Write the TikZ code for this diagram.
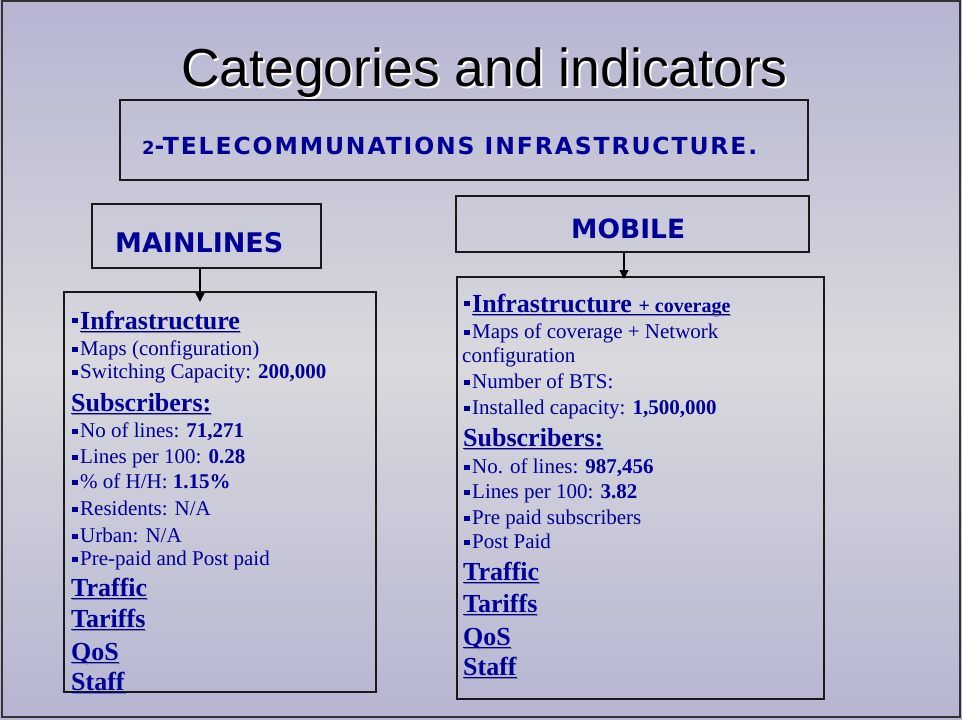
\documentclass[tikz,border=0pt]{standalone}
\usepackage{fontspec}
\setmainfont{Liberation Serif}
\newfontfamily\slidesans{Liberation Sans}
\newfontfamily\boxsans{DejaVu Sans}
\newfontfamily\widesans[LetterSpace=8]{DejaVu Sans}
\usetikzlibrary{positioning, arrows.meta}
\definecolor{tblue}{RGB}{0,0,153}
\definecolor{bgtop}{RGB}{181,181,210}
\definecolor{bgmid}{RGB}{217,217,221}
\definecolor{ulshade}{RGB}{125,125,160}
% underline with a small shadow, kept at a fixed depth
\newsavebox\ulbox
\newcommand\uln[1]{\sbox\ulbox{#1}\leavevmode\vtop{\offinterlineskip\hbox{\raisebox{0pt}[\ht\ulbox][0pt]{\usebox\ulbox}}\kern2pt\hbox{\rule{\wd\ulbox}{1.4pt}}\moveright1pt\hbox{\color{ulshade}\rule{\wd\ulbox}{0.9pt}}}}
% square bullet
\newcommand\sqb[1][3]{\rule[#1pt]{5.5pt}{5.5pt}\kern2.5pt}
\tikzset{
	catbox/.style={
		draw=black!90,
		line width=1.4pt,
		inner sep=0pt,
		outer sep=0pt
	},
	feed/.style={
		-{Triangle[width=9pt,length=9pt]},
		line width=1.3pt
	},
	line/.style={
		anchor=base west,
		inner sep=0pt,
		text=tblue,
		font=\fontsize{21}{25}\selectfont
	},
	head/.style={
		line,
		font=\fontsize{26}{30}\selectfont\bfseries
	},
	caplabel/.style={
		anchor=base west,
		inner sep=0pt,
		text=tblue
	}
}

\begin{document}
\begin{tikzpicture}[x=1pt, y=-1pt]
	\useasboundingbox (0,0) rectangle (962,720);
	\shade[top color=bgtop, bottom color=bgtop, middle color=bgmid] (0,0) rectangle (962,720);
	\draw[line width=2pt, black!80] (2,1) rectangle (960,717);

	% title
	\node[anchor=base, inner sep=0pt, text=white, font=\slidesans\fontsize{53.5}{60}\selectfont] (titleshadow) at (486.5,88) {Categories and indicators};
	\node[anchor=base, inner sep=0pt, font=\slidesans\fontsize{53.5}{60}\selectfont] (title) at (484.5,86) {Categories and indicators};

	% boxes
	\node[catbox, minimum width=688, minimum height=80] (telbox) at (464,140) {};
	\node[catbox, minimum width=229, minimum height=64] (main) at (206.5,236) {};
	\node[catbox, minimum width=353, minimum height=56] (mobile) at (632.5,224) {};
	\node[catbox, minimum width=312, minimum height=400] (mlbody) at (220,492) {};
	\node[catbox, minimum width=367, minimum height=422] (mobody) at (640.5,488) {};

	\node[caplabel, font=\widesans\bfseries\fontsize{23.5}{26}\selectfont] (tellabel) at (142,154) {{\fontsize{18}{18}\selectfont 2}-TELECOMMUNATIONS INFRASTRUCTURE.};
	\node[caplabel, font=\boxsans\bfseries\fontsize{27}{30}\selectfont] (mainlabel) at (115,252) {MAINLINES};
	\node[caplabel, font=\boxsans\bfseries\fontsize{26.5}{30}\selectfont] (mobilelabel) at (571,238) {MOBILE};

	\draw[feed, shorten >=-10pt] ([xshift=-6.5pt]main.south) -- ([xshift=-6.5pt]main.south |- mlbody.north);
	\draw[feed, shorten >=-2pt] ([xshift=-8.5pt]mobile.south) -- ([xshift=-8.5pt]mobile.south |- mobody.north);

	% mainlines indicators
	\node[head] (ml-infra) at (72,329) {\sqb[6]\uln{Infrastructure}};
	\node[line] (ml-maps) at (72,355) {\sqb Maps (configuration)};
	\node[line] (ml-switch) at (72,378) {\sqb Switching Capacity: \textbf{200,000}};
	\node[head] (ml-subs) at (71,411) {\uln{Subscribers:}};
	\node[line] (ml-lines) at (72,437) {\sqb No of lines: \textbf{71,271}};
	\node[line] (ml-per) at (72,463) {\sqb Lines per 100: \textbf{0.28}};
	\node[line] (ml-hh) at (72,488) {\sqb\% of H/H: \textbf{1.15\%}};
	\node[line] (ml-res) at (72,515) {\sqb Residents: N/A};
	\node[line] (ml-urb) at (72,542) {\sqb Urban: N/A};
	\node[line] (ml-pre) at (72,565) {\sqb Pre-paid and Post paid};
	\node[head] (ml-traf) at (71,596) {\uln{Traffic}};
	\node[head] (ml-tar) at (71,627) {\uln{Tariffs}};
	\node[head] (ml-qos) at (71,660) {\uln{QoS}};
	\node[head] (ml-staff) at (71,690) {\uln{Staff}};

	% mobile indicators
	\node[head] (mo-infra) at (464,312) {\sqb[6]\uln{Infrastructure {\fontsize{20}{24}\selectfont + coverage}}};
	\node[line] (mo-maps) at (464,338) {\sqb Maps of coverage + Network};
	\node[line] (mo-conf) at (462,362) {configuration};
	\node[line] (mo-bts) at (464,388) {\sqb Number of BTS:};
	\node[line] (mo-cap) at (464,414) {\sqb Installed capacity: \textbf{1,500,000}};
	\node[head] (mo-subs) at (463,446) {\uln{Subscribers:}};
	\node[line] (mo-lines) at (464,473) {\sqb No. of lines: \textbf{987,456}};
	\node[line] (mo-per) at (464,498) {\sqb Lines per 100: \textbf{3.82}};
	\node[line] (mo-pre) at (464,524) {\sqb Pre paid subscribers};
	\node[line] (mo-post) at (464,548) {\sqb Post Paid};
	\node[head] (mo-traf) at (463,580) {\uln{Traffic}};
	\node[head] (mo-tar) at (463,612) {\uln{Tariffs}};
	\node[head] (mo-qos) at (463,645) {\uln{QoS}};
	\node[head] (mo-staff) at (463,675) {\uln{Staff}};
\end{tikzpicture}
\end{document}
